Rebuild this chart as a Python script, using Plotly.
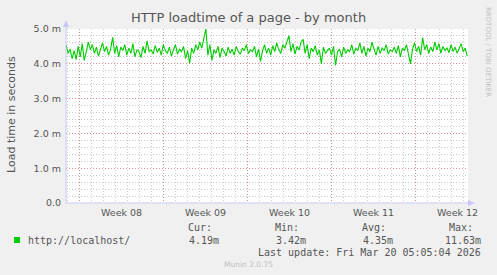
import plotly.graph_objects as go
import pandas as pd

# ---- data -------------------------------------------------------------
range_start = "2026-02-14 21:26"
range_end = "2026-03-20 08:30"
week_starts = ["2026-02-16", "2026-02-23", "2026-03-02", "2026-03-09", "2026-03-16"]
week_mid = ["2026-02-19 12:00", "2026-02-26 12:00", "2026-03-05 12:00",
            "2026-03-12 12:00", "2026-03-19 12:00"]
week_labels = ["Week 08", "Week 09", "Week 10", "Week 11", "Week 12"]

y_tickvals = [0, 1, 2, 3, 4, 5]
y_ticktext = ["0.0", "1.0 m", "2.0 m", "3.0 m", "4.0 m", "5.0 m"]

load_ms = [
    4.55, 4.30, 4.42, 4.15, 4.38, 4.12, 4.50, 4.20, 4.58, 4.10,
    4.35, 4.62, 4.40, 4.55, 4.30, 4.48, 4.22, 4.45, 4.60, 4.35,
    4.50, 4.25, 4.42, 4.76, 4.30, 4.52, 4.20, 4.48, 4.38, 4.55,
    4.25, 4.45, 4.30, 4.58, 4.20, 4.40, 4.35, 4.18, 4.50, 4.30,
    4.66, 4.35, 4.40, 4.28, 4.52, 4.33, 4.45, 4.25, 4.55, 4.38,
    4.30, 4.48, 4.22, 4.40, 4.55, 4.28, 4.42, 4.35, 4.50, 4.15,
    4.38, 4.02, 4.45, 4.30, 4.55, 4.40, 4.62, 4.45, 4.70, 5.00,
    4.25, 4.55, 4.10, 4.40, 4.30, 4.50, 4.18, 4.45, 4.35, 4.22,
    4.48, 4.30, 4.42, 4.25, 4.50, 4.35, 4.28, 4.45, 4.38, 4.55,
    4.30, 4.40, 4.35, 4.50, 4.20, 4.42, 4.07, 4.38, 4.55, 4.30,
    4.45, 4.25, 4.52, 4.35, 4.60, 4.40, 4.30, 4.55, 4.45, 4.65,
    4.81, 4.35, 4.58, 4.28, 4.50, 4.40, 4.62, 4.70, 4.30, 4.55,
    4.15, 4.45, 4.35, 4.52, 4.25, 4.40, 4.00, 4.48, 4.30, 4.38,
    4.45, 4.25, 4.50, 3.95, 4.35, 4.42, 4.20, 4.48, 4.30, 4.40,
    4.35, 4.55, 4.28, 4.45, 4.38, 4.60, 4.30, 4.50, 4.22, 4.45,
    4.35, 4.62, 4.40, 4.25, 4.50, 4.30, 4.45, 4.38, 4.55, 4.28,
    4.40, 4.35, 4.48, 4.30, 4.52, 4.20, 4.45, 4.38, 4.55, 4.30,
    4.00, 4.42, 4.60, 4.35, 4.50, 4.25, 4.75, 4.40, 4.55, 4.30,
    4.48, 4.35, 4.62, 4.40, 4.58, 4.30, 4.50, 4.38, 4.45, 4.32,
    4.55, 4.35, 4.48, 4.30, 4.42, 4.58, 4.35, 4.45, 4.22,
]
data_start = "2026-02-14 21:30"
data_end = "2026-03-20 07:00"

series_name = "http://localhost/"
stat_heads = ["Cur:", "Min:", "Avg:", "Max:"]
stat_vals = ["4.19m", "3.42m", "4.35m", "11.63m"]
last_update = "Last update: Fri Mar 20 05:05:04 2026"

# ---- layout geometry ---------------------------------------------------
W, H = 497, 275
L, R, T, B = 66, 468, 29, 203


def px(x):
    return (x - L) / (R - L)


def py(y):
    return (B - y) / (B - T)


times = pd.date_range(data_start, data_end, periods=len(load_ms))

GREEN = "#00CC00"
TXT = "#555555"
MONO = "DejaVu Sans Mono"
SANS = "DejaVu Sans"
MAJOR = "#e08c8c"
MINOR = "#cacaca"
AXIS = "#c8c8f8"

fig = go.Figure()
fig.add_trace(go.Scatter(x=times, y=load_ms, mode="lines",
                         line=dict(color=GREEN, width=1.1), hoverinfo="skip",
                         showlegend=False))

fig.update_layout(
    width=W, height=H,
    margin=dict(l=L, r=W - R, t=T, b=H - B, pad=0),
    paper_bgcolor="#F0F0F0", plot_bgcolor="#FFFFFF",
    showlegend=False,
)

fig.update_xaxes(
    type="date", range=[range_start, range_end],
    tick0=week_starts[0], dtick=7 * 86400000,
    showgrid=True, gridcolor=MAJOR, griddash="1px,2px", gridwidth=1,
    showticklabels=False, ticks="", zeroline=False, showline=False,
    minor=dict(tick0=week_starts[0], dtick=86400000, showgrid=True,
               gridcolor=MINOR, griddash="1px,2px", gridwidth=1, ticks=""),
)
fig.update_yaxes(
    range=[0, 5], tickvals=y_tickvals, ticktext=y_ticktext,
    showgrid=True, gridcolor=MAJOR, griddash="1px,2px", gridwidth=1,
    ticks="", zeroline=False, showline=False,
    tickfont=dict(family=SANS, size=9.5, color=TXT),
    ticklabelstandoff=4,
    minor=dict(dtick=0.2, showgrid=True, gridcolor=MINOR,
               griddash="1px,2px", gridwidth=1, ticks=""),
)

ann = []
# week labels
for wm, wl in zip(week_mid, week_labels):
    ann.append(dict(x=wm, y=py(212), xref="x", yref="paper", text=wl,
                    showarrow=False, xanchor="center", yanchor="middle",
                    font=dict(family=SANS, size=9.5, color=TXT)))
# title
ann.append(dict(x=px(248), y=py(18), xref="paper", yref="paper",
                text="HTTP loadtime of a page - by month", showarrow=False,
                xanchor="center", yanchor="middle",
                font=dict(family=SANS, size=13, color=TXT)))
# y axis title
ann.append(dict(x=px(12), y=py(115), xref="paper", yref="paper",
                text="Load time in seconds", showarrow=False, textangle=-90,
                xanchor="center", yanchor="middle",
                font=dict(family=SANS, size=11, color=TXT)))
# rrdtool credit
ann.append(dict(x=px(488), y=py(52), xref="paper", yref="paper",
                text="RRDTOOL / TOBI OETIKER", showarrow=False, textangle=90,
                xanchor="center", yanchor="middle",
                font=dict(family=SANS, size=7, color="#c0c0c0")))
# legend headers
for head, left in zip(stat_heads, [186, 273, 360, 447]):
    ann.append(dict(x=px(left), y=py(227), xref="paper", yref="paper",
                    text=head, showarrow=False, xanchor="left",
                    yanchor="middle",
                    font=dict(family=MONO, size=10, color=TXT)))
ann.append(dict(x=px(26), y=py(240), xref="paper", yref="paper",
                text=series_name, showarrow=False, xanchor="left",
                yanchor="middle", font=dict(family=MONO, size=10, color=TXT)))
for val, right in zip(stat_vals, [221, 308, 395, 483]):
    ann.append(dict(x=px(right), y=py(240), xref="paper", yref="paper",
                    text=val, showarrow=False, xanchor="right",
                    yanchor="middle",
                    font=dict(family=MONO, size=10, color=TXT)))
ann.append(dict(x=px(483), y=py(252), xref="paper", yref="paper",
                text=last_update, showarrow=False, xanchor="right",
                yanchor="middle", font=dict(family=MONO, size=10, color=TXT)))
ann.append(dict(x=px(248), y=py(264), xref="paper", yref="paper",
                text="Munin 2.0.75", showarrow=False, xanchor="center",
                yanchor="middle", font=dict(family=SANS, size=7.5, color="#c0c0c0")))
fig.update_layout(annotations=ann)

shapes = []
# axis lines with arrows
shapes.append(dict(type="line", xref="paper", yref="paper",
                   x0=px(66), x1=px(66), y0=py(203), y1=py(24),
                   line=dict(color=AXIS, width=1)))
shapes.append(dict(type="path", xref="paper", yref="paper",
                   path=f"M {px(63)},{py(27)} L {px(69)},{py(27)} L {px(66)},{py(20)} Z",
                   fillcolor=AXIS, line=dict(color=AXIS, width=0)))
shapes.append(dict(type="line", xref="paper", yref="paper",
                   x0=px(66), x1=px(470), y0=py(203), y1=py(203),
                   line=dict(color=AXIS, width=1)))
shapes.append(dict(type="path", xref="paper", yref="paper",
                   path=f"M {px(468)},{py(200)} L {px(468)},{py(206)} L {px(475)},{py(203)} Z",
                   fillcolor=AXIS, line=dict(color=AXIS, width=0)))
# legend swatch
shapes.append(dict(type="rect", xref="paper", yref="paper",
                   x0=px(14), x1=px(20), y0=py(243), y1=py(237),
                   fillcolor=GREEN, line=dict(width=0)))
fig.update_layout(shapes=shapes)

fig.write_html("out.html")
